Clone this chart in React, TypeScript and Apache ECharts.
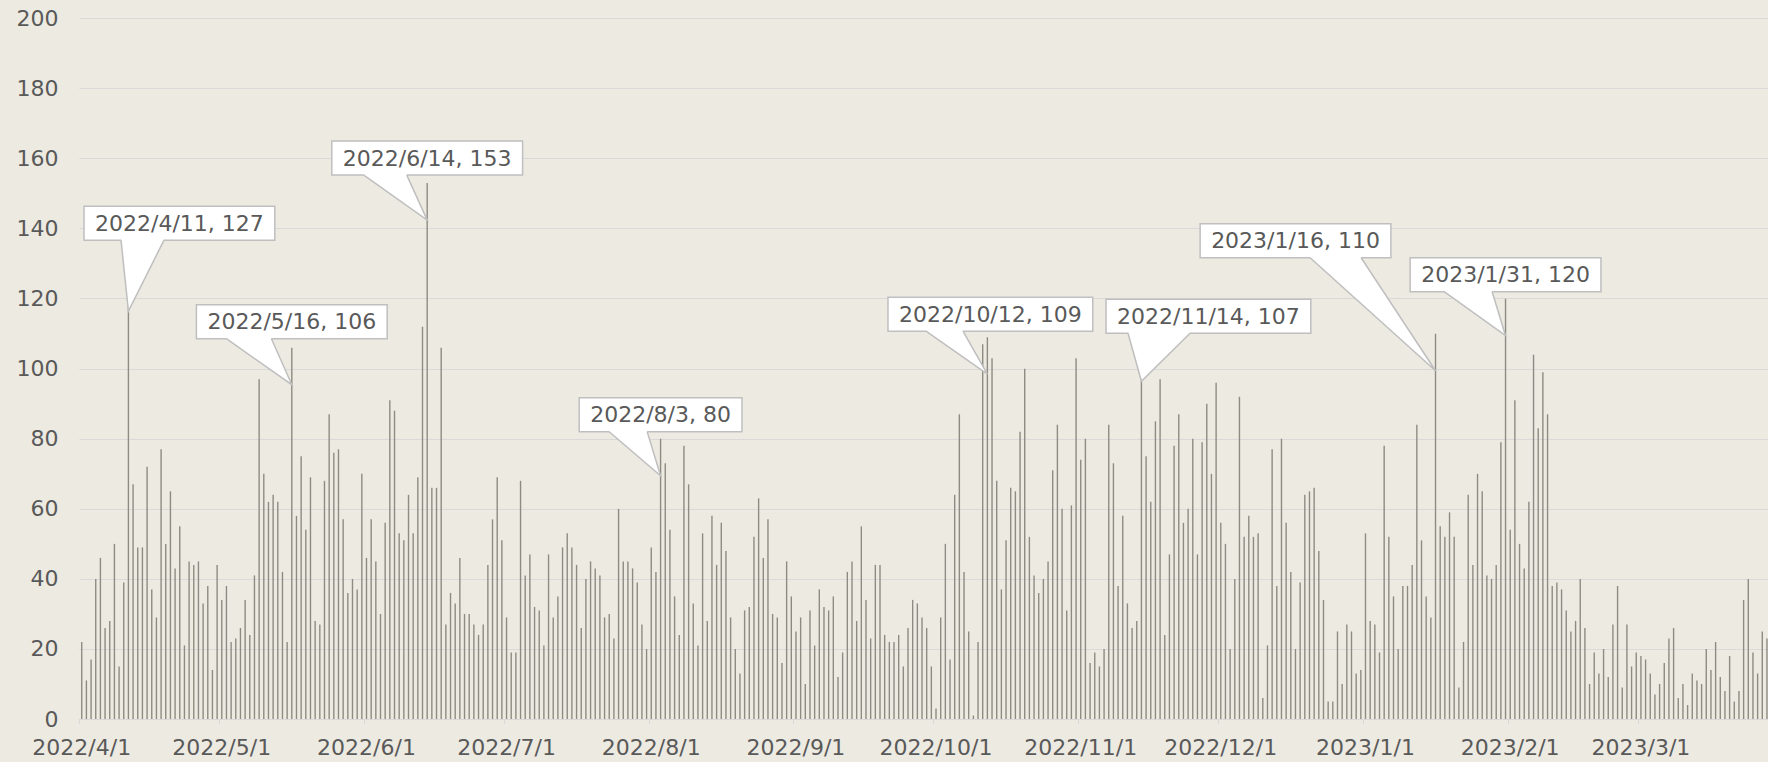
import React, { useEffect, useRef } from "react";
import * as echarts from "echarts";

// ---- data ----
const START_DATE = { year: 2022, month: 4, day: 1 };
const DAY_COUNT = 365;

const dates: string[] = (() => {
  const out: string[] = [];
  const d = new Date(START_DATE.year, START_DATE.month - 1, START_DATE.day);
  for (let i = 0; i < DAY_COUNT; i++) {
    out.push(`${d.getFullYear()}/${d.getMonth() + 1}/${d.getDate()}`);
    d.setDate(d.getDate() + 1);
  }
  return out;
})();

const aprilValues = [22, 11, 17, 40, 46, 26, 28, 50, 15, 39, 127, 67, 49, 49, 72, 37, 29, 77, 50, 65, 43, 55, 21, 45, 44, 45, 33, 38, 14, 44];
const mayValues = [34, 38, 22, 23, 26, 34, 24, 41, 97, 70, 62, 64, 62, 42, 22, 106, 58, 75, 54, 69, 28, 27, 68, 87, 76, 77, 57, 36, 40, 37, 70];
const juneValues = [46, 57, 45, 30, 56, 91, 88, 53, 51, 64, 53, 69, 112, 153, 66, 66, 106, 27, 36, 33, 46, 30, 30, 27, 24, 27, 44, 57, 69, 51];
const julyValues = [29, 19, 19, 68, 41, 47, 32, 31, 21, 47, 29, 35, 49, 53, 49, 44, 26, 40, 45, 43, 41, 29, 30, 23, 60, 45, 45, 43, 39, 27, 20];
const augustValues = [49, 42, 80, 73, 54, 35, 24, 78, 67, 33, 21, 53, 28, 58, 44, 56, 48, 29, 20, 13, 31, 32, 52, 63, 46, 57, 30, 29, 16, 45, 35];
const septemberValues = [25, 29, 10, 31, 21, 37, 32, 31, 35, 12, 19, 42, 45, 28, 55, 34, 23, 44, 44, 24, 22, 22, 24, 15, 26, 34, 33, 29, 26, 15];
const octoberValues = [3, 29, 50, 17, 64, 87, 42, 25, 1, 22, 107, 109, 103, 68, 37, 51, 66, 65, 82, 100, 52, 41, 36, 40, 45, 71, 84, 60, 31, 61, 103];
const novemberValues = [74, 80, 16, 19, 15, 20, 84, 73, 38, 58, 33, 26, 28, 107, 75, 62, 85, 97, 24, 47, 78, 87, 56, 60, 80, 47, 79, 90, 70, 96];
const decemberValues = [56, 50, 20, 40, 92, 52, 58, 52, 53, 6, 21, 77, 38, 80, 56, 42, 20, 39, 64, 65, 66, 48, 34, 5, 5, 25, 10, 27, 25, 13, 14];
const januaryValues = [53, 28, 27, 19, 78, 52, 35, 20, 38, 38, 44, 84, 51, 35, 29, 110, 55, 52, 59, 52, 9, 22, 64, 44, 70, 65, 41, 40, 44, 79, 120];
const februaryValues = [54, 91, 50, 43, 62, 104, 83, 99, 87, 38, 39, 37, 31, 25, 28, 40, 26, 10, 19, 13, 20, 12, 27, 38, 9, 27, 15, 19];
const marchValues = [18, 17, 13, 7, 10, 16, 23, 26, 6, 10, 4, 13, 11, 10, 20, 14, 22, 12, 8, 18, 5, 8, 34, 40, 19, 13, 25, 23, null, null, null];

const dailyCounts: (number | null)[] = [
  ...aprilValues, ...mayValues, ...juneValues, ...julyValues, ...augustValues, ...septemberValues,
  ...octoberValues, ...novemberValues, ...decemberValues, ...januaryValues, ...februaryValues, ...marchValues,
];

const yTicks = { min: 0, max: 200, interval: 20 };

const calloutDates = ["2022/4/11", "2022/5/16", "2022/6/14", "2022/8/3", "2022/10/12", "2022/11/14", "2023/1/16", "2023/1/31"];

// ---- callout layout (pixel offsets, style only) ----
const calloutLayout: Record<string, { dx: number; dy: number; b0: number; b1: number }> = {
  "2022/4/11": { dx: 51, dy: -71, b0: 37, b1: 80 },
  "2022/5/16": { dx: 0, dy: -46, b0: 30, b1: 75 },
  "2022/6/14": { dx: 0, dy: -45, b0: 32, b1: 75 },
  "2022/8/3": { dx: 0, dy: -44, b0: 30, b1: 68 },
  "2022/10/12": { dx: 3, dy: -43, b0: 38, b1: 75 },
  "2022/11/14": { dx: 67, dy: -48, b0: 22, b1: 84 },
  "2023/1/16": { dx: -140, dy: -113, b0: 110, b1: 161 },
  "2023/1/31": { dx: 0, dy: -44, b0: 34, b1: 82 },
};

const FONT_FAMILY = "'DejaVu Sans', sans-serif";
const FONT_SIZE = 22;
const TEXT_COLOR = "#595959";
const BG = "#EDEAE2";
const BAR_COLOR = "#8C8C82";
const GRID_COLOR = "#D9D9D9";
const CALLOUT_BORDER = "#BFBFBF";
const TIP_DROP = 37;
const BOX_PAD = 11;
const BOX_H = 34;

function measure(text: string): number {
  const c = document.createElement("canvas");
  const ctx = c.getContext("2d");
  if (!ctx) return text.length * 12;
  ctx.font = `${FONT_SIZE}px ${FONT_FAMILY}`;
  return ctx.measureText(text).width;
}

function buildCallouts(chart: echarts.ECharts) {
  const elements: any[] = [];
  calloutDates.forEach((date) => {
    const idx = dates.indexOf(date);
    const value = dailyCounts[idx] as number;
    const pt = chart.convertToPixel({ xAxisIndex: 0, yAxisIndex: 0 }, [idx, value]) as number[];
    const lay = calloutLayout[date];
    const tipX = pt[0];
    const tipY = pt[1] + TIP_DROP;
    const text = `${date}, ${value}`;
    const w = measure(text) + BOX_PAD * 2;
    const cx = tipX + lay.dx;
    const bottom = tipY + lay.dy;
    const left = cx - w / 2;
    const top = bottom - BOX_H;
    const b0 = left + lay.b0;
    const b1 = left + lay.b1;
    elements.push({
      type: "rect",
      z: 100,
      shape: { x: left, y: top, width: w, height: BOX_H },
      style: { fill: "#FFFFFF", stroke: CALLOUT_BORDER, lineWidth: 1.5 },
    });
    elements.push({
      type: "polygon",
      z: 101,
      shape: { points: [[b0 + 0.8, bottom - 1.5], [b1 - 0.8, bottom - 1.5], [b1, bottom], [tipX, tipY], [b0, bottom]] },
      style: { fill: "#FFFFFF", stroke: "none" },
    });
    elements.push({
      type: "polyline",
      z: 102,
      shape: { points: [[b0, bottom], [tipX, tipY], [b1, bottom]] },
      style: { fill: "none", stroke: CALLOUT_BORDER, lineWidth: 1.5 },
    });
    elements.push({
      type: "text",
      z: 103,
      x: cx,
      y: top + BOX_H / 2,
      style: {
        text,
        fill: TEXT_COLOR,
        font: `${FONT_SIZE}px ${FONT_FAMILY}`,
        align: "center",
        verticalAlign: "middle",
      },
    });
  });
  return elements;
}

const isMonthStart = (_i: number, v: string) => v.split("/")[2] === "1";

export default function App() {
  const ref = useRef<HTMLDivElement>(null);
  useEffect(() => {
    document.body.style.margin = "0";
    document.body.style.background = BG;
    const chart = echarts.init(ref.current!, null, { renderer: "svg" });
    chart.setOption({
      animation: false,
      backgroundColor: BG,
      textStyle: { fontFamily: FONT_FAMILY },
      grid: { left: 79.4, right: -15.3, top: 18.5, bottom: 43, containLabel: false, outerBoundsMode: "none" },
      xAxis: {
        type: "category",
        data: dates,
        boundaryGap: true,
        axisLine: { show: true, lineStyle: { color: GRID_COLOR, width: 1 } },
        axisTick: { show: true, interval: isMonthStart, length: 5, lineStyle: { color: GRID_COLOR } },
        axisLabel: { interval: isMonthStart, color: TEXT_COLOR, fontSize: FONT_SIZE, fontFamily: FONT_FAMILY, margin: 17 },
        splitLine: { show: false },
      },
      yAxis: {
        type: "value",
        min: yTicks.min,
        max: yTicks.max,
        interval: yTicks.interval,
        axisLine: { show: false },
        axisTick: { show: false },
        axisLabel: { color: TEXT_COLOR, fontSize: FONT_SIZE, fontFamily: FONT_FAMILY, margin: 21 },
        splitLine: { lineStyle: { color: GRID_COLOR, width: 1.2 } },
      },
      series: [
        {
          type: "bar",
          data: dailyCounts,
          barWidth: 1.4,
          itemStyle: { color: BAR_COLOR },
        },
      ],
    });
    chart.setOption({ graphic: buildCallouts(chart) });
    return () => chart.dispose();
  }, []);
  return <div ref={ref} style={{ width: 1768, height: 762 }} />;
}
